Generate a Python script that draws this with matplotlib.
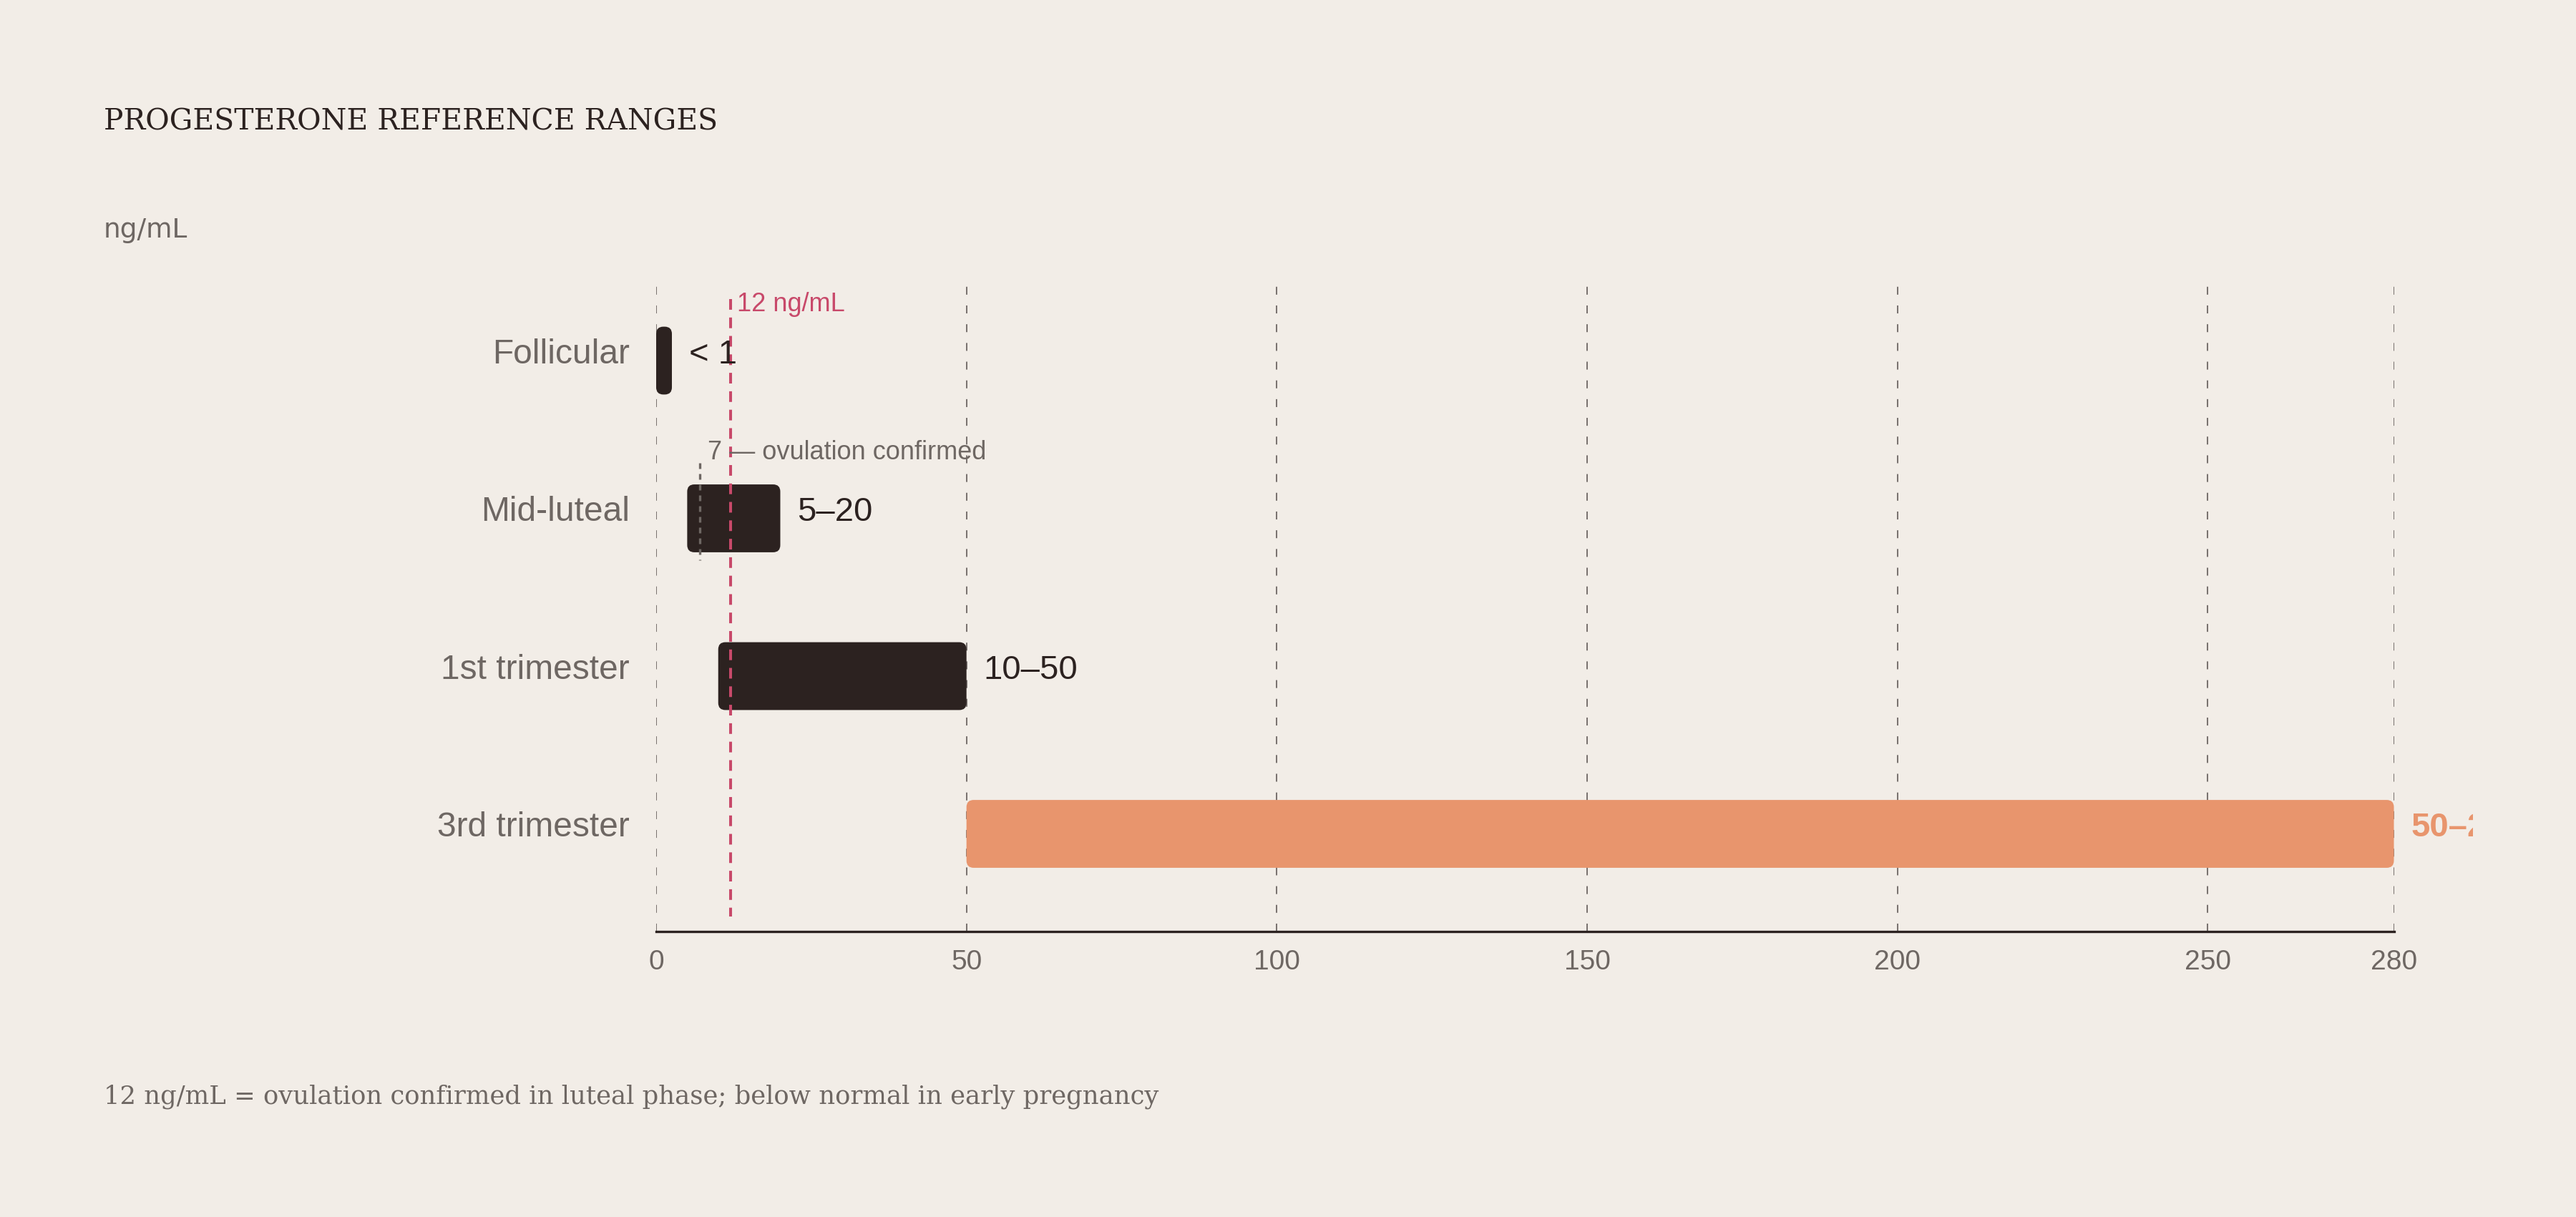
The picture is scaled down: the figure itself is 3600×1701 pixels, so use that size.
import matplotlib
matplotlib.use("Agg")
import matplotlib.pyplot as plt
from matplotlib.patches import FancyBboxPatch
from matplotlib.transforms import Bbox, TransformedBbox

# data
phases = ["Follicular", "Mid-luteal", "1st trimester", "3rd trimester"]
low = [0, 5, 10, 50]
high = [1, 20, 50, 280]
range_labels = ["< 1", "5\u201320", "10\u201350", "50\u2013280"]
highlight = [False, False, False, True]
threshold = 12
ovulation_min = 7
ticks = [0, 50, 100, 150, 200, 250, 280]

BG = "#f2ede7"
DARK = "#2c2220"
ORANGE = "#e8956d"
RED = "#c8496a"
GREY = "#6e6763"
GRID = "#7a7370"
SANS = ["Liberation Sans", "DejaVu Sans"]
SERIF = ["DejaVu Serif", "Liberation Serif"]

W, H, DPI = 3600, 1701, 100
fig = plt.figure(figsize=(W / DPI, H / DPI), dpi=DPI, facecolor=BG)
ax_l, ax_r, ax_t, ax_b = 917 / W, 3345.5 / W, 1 - 390 / H, 1 - 1302 / H
ax = fig.add_axes([ax_l, ax_b, ax_r - ax_l, ax_t - ax_b])
ax.set_facecolor(BG)

n = len(phases)
top_pad, bot_pad = 0.517, 0.619
ax.set_xlim(0, 280)
ax.set_ylim(n - 1 + bot_pad, -top_pad)

px_x = (ax_r - ax_l) * W / 280
px_y = (ax_t - ax_b) * H / (n - 1 + bot_pad + top_pad)
bar_h = 0.43
radius_px = 10
min_w_px = 22

# grid
for t in ticks:
    ax.axvline(t, color=GRID, lw=1.45, linestyle=(0, (5.5, 7.5)), zorder=1)

# bars + labels
for i in range(n):
    x0 = low[i]
    w = max(high[i] - low[i], min_w_px / px_x)
    color = ORANGE if highlight[i] else DARK
    r = min(radius_px, w * px_x / 2) / px_x
    ax.add_patch(FancyBboxPatch((x0, i - bar_h / 2), w, bar_h,
                                boxstyle=f"round,pad=0,rounding_size={r}",
                                mutation_aspect=px_x / px_y,
                                fc=color, ec="none", zorder=2))
    lab = ax.annotate(range_labels[i], xy=(x0 + w, i), xytext=(24, -3.5),
                      textcoords="offset pixels", va="baseline", ha="left",
                      fontsize=34, family=SANS, color=color,
                      fontweight="bold" if highlight[i] else "normal",
                      annotation_clip=False, zorder=4)
    lab.set_clip_box(TransformedBbox(Bbox([[0, 0], [3456 / W, 1]]), fig.transFigure))
    lab.set_clip_on(True)
    ax.annotate(phases[i], xy=(0, i), xytext=(-37, -3.5),
                textcoords="offset pixels", va="baseline", ha="right",
                fontsize=34.5, family=SANS, color=GREY, annotation_clip=False)

# 7 ng/mL marker on mid-luteal row
ax.vlines(ovulation_min, 1 - 0.35, 1 + 0.265, color=GREY, lw=2.4,
          linestyle=(0, (2.4, 2.1)), zorder=3)
ax.annotate("7 \u2014 ovulation confirmed", xy=(ovulation_min, 1 - 0.374),
            xytext=(11, 0), textcoords="offset pixels", va="baseline",
            ha="left", fontsize=26, family=SANS, color=GREY, zorder=4)

# threshold line
ax.vlines(threshold, -0.39, n - 1 + 0.524, color=RED, lw=2.9,
          linestyle=(0, (3.7, 2.7)), zorder=3)
ax.annotate("12 ng/mL", xy=(threshold, -0.313), xytext=(9, 0),
            textcoords="offset pixels", va="baseline", ha="left",
            fontsize=26, family=SANS, color=RED, zorder=4,
            annotation_clip=False)

# axes styling
for s in ["top", "right", "left"]:
    ax.spines[s].set_visible(False)
ax.spines["bottom"].set_color(DARK)
ax.spines["bottom"].set_linewidth(2.4)
ax.spines["bottom"].set_zorder(5)
ax.set_xticks(ticks)
ax.set_xticklabels([str(t) for t in ticks], fontsize=28, color=GREY, family=SANS)
ax.set_yticks([])
ax.tick_params(axis="x", length=0, pad=18)

# titles
fig.text(145 / W, 1 - 182 / H, "PROGESTERONE REFERENCE RANGES", fontsize=29.4,
         family=SERIF, color=DARK, va="baseline", ha="left")
fig.text(145 / W, 1 - 332 / H, "ng/mL", fontsize=27, family=["DejaVu Sans"],
         color=GREY, va="baseline", ha="left")
fig.text(145 / W, 1 - 1542 / H,
         "12 ng/mL = ovulation confirmed in luteal phase; below normal in early pregnancy",
         fontsize=25.5, family=SERIF, color=GREY, va="baseline", ha="left")

fig.savefig("out.png", dpi=DPI, facecolor=BG)
